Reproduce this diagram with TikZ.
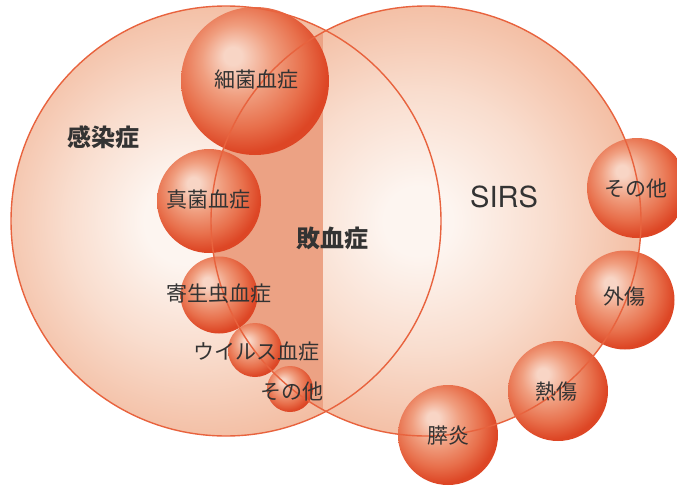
\documentclass[tikz,border=0pt]{standalone}
\usepackage{fontspec}
\setmainfont{Noto Sans CJK JP}
\newfontfamily\sirsfont{TeX Gyre Heros}
\definecolor{bgA}{HTML}{FDF5F0}
\definecolor{bgB}{HTML}{F9DDCE}
\definecolor{bgC}{HTML}{F3BDA2}
\definecolor{spA}{HTML}{F8D5C5}
\definecolor{spB}{HTML}{F09E7F}
\definecolor{spC}{HTML}{E8704C}
\definecolor{spD}{HTML}{DD4625}
\definecolor{lensC}{HTML}{ECA284}
\definecolor{ringC}{HTML}{E8633E}
\definecolor{txtC}{HTML}{333333}
\pgfdeclareradialshading{bigL}{\pgfpoint{-5bp}{0bp}}{color(0bp)=(bgA); color(5bp)=(bgA); color(15bp)=(bgB); color(26bp)=(bgC); color(50bp)=(bgC)}
\pgfdeclareradialshading{bigR}{\pgfpoint{-1bp}{0bp}}{color(0bp)=(bgA); color(4bp)=(bgA); color(15bp)=(bgB); color(26bp)=(bgC); color(50bp)=(bgC)}
\pgfdeclareradialshading{sphere}{\pgfpoint{-8bp}{9bp}}{color(0bp)=(spA); color(3bp)=(spA); color(12bp)=(spB); color(21bp)=(spC); color(28bp)=(spD); color(50bp)=(spD)}
\tikzset{
  bigcirc/.style={circle, minimum size=430pt, inner sep=0pt},
  ball/.style={circle, inner sep=0pt, shading=sphere, minimum size=#1},
  ring/.style={draw=ringC, line width=1.4pt},
  lab/.style={text=txtC, font=\fontsize{21}{21}\selectfont, inner sep=0pt},
  biglab/.style={text=txtC, font=\fontsize{24}{24}\selectfont\bfseries, inner sep=0pt},
}
\begin{document}
\begin{tikzpicture}[x=1pt,y=-1pt]
\useasboundingbox (0,0) rectangle (677,487);
% big circles
\node[bigcirc, shading=bigL] (inf) at (226,221) {};
\node[bigcirc, shading=bigR] (sirs) at (426,221) {};
\coordinate (cut) at (323,0);
\begin{scope}
  \clip (inf.center) circle (215pt);
  \clip (sirs.center) circle (215pt);
  \fill[lensC] (0,0) rectangle (cut |- 0,487);
\end{scope}
% spheres
\node[ball=148pt] (b1) at (255,81) {};
\node[ball=104pt] (b2) at (209,201) {};
\node[ball=77pt] (b3) at (219,295) {};
\node[ball=54pt] (b4) at (255,350) {};
\node[ball=46pt] (b5) at (290,389) {};
\node[ball=100pt] (s1) at (448,435) {};
\node[ball=100pt] (s2) at (558,391) {};
\node[ball=99pt] (s3) at (625,300) {};
\node[ball=100pt] (s4) at (637,188) {};
% outlines
\draw[ring] (inf.center) circle (215pt);
\draw[ring] (sirs.center) circle (215pt);
% labels
\node[biglab] (tinf) at (103.5,137) {感染症};
\node[biglab] (tsep) at (332.5,238) {敗血症};
\node[text=txtC, font=\sirsfont\fontsize{29}{29}\selectfont, inner sep=0pt] (tsirs) at (504,197) {SIRS};
\node[lab] (t1) at (256.5,80) {細菌血症};
\node[lab] (t2) at (208,200) {真菌血症};
\node[lab] (t3) at (218.5,294) {寄生虫血症};
\node[lab] (t4) at (256,352) {ウイルス血症};
\node[lab] (t5) at (292,392) {その他};
\node[lab] (t6) at (448,436) {膵炎};
\node[lab] (t7) at (556.5,392) {熱傷};
\node[lab] (t8) at (624,297) {外傷};
\node[lab] (t9) at (636,189) {その他};
\end{tikzpicture}
\end{document}
